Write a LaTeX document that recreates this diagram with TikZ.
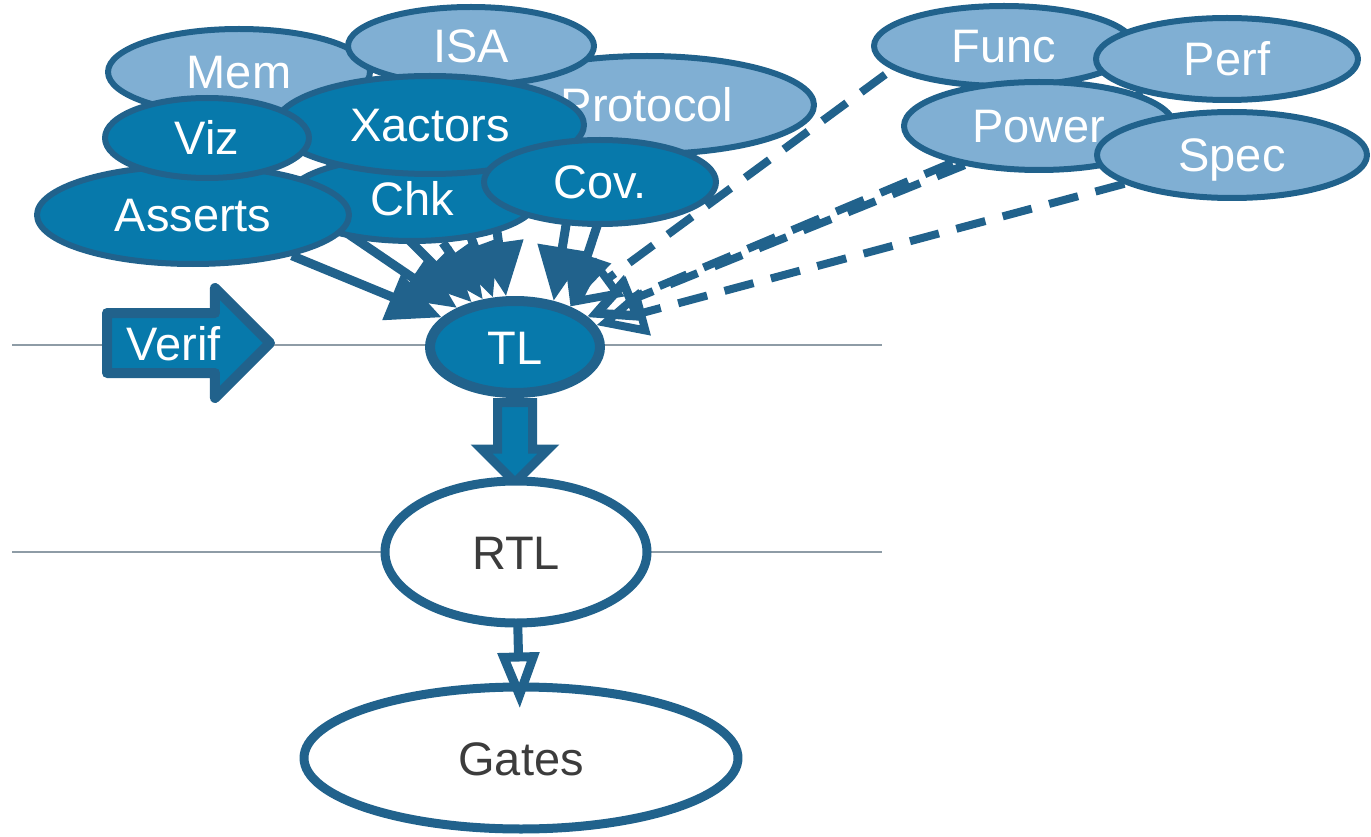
\documentclass[tikz,border=0pt]{standalone}
\usepackage{fontspec}
\setmainfont{Liberation Sans}
\usetikzlibrary{arrows.meta,shapes.geometric,shapes.arrows,backgrounds}
\definecolor{paleblue}{HTML}{80AFD3}
\definecolor{deepblue}{HTML}{0779AB}
\definecolor{rimblue}{HTML}{21628C}
\definecolor{railgray}{HTML}{8E9CA6}
\definecolor{inkgray}{HTML}{3C3C3C}
\begin{document}
\begin{tikzpicture}[line cap=round,line join=round,x=1pt,y=-1pt,
  every node/.style={font=\fontsize{47}{56}\selectfont,text height=34pt,text depth=0pt,inner sep=0pt},
  blob/.style={ellipse,draw=rimblue,line width=6pt,text=white},
  pale/.style={blob,fill=paleblue},
  deep/.style={blob,fill=deepblue},
  level/.style={ellipse,draw=rimblue,line width=9pt,fill=white,text=inkgray},
  feed/.style={draw=rimblue,line width=9pt,-{Triangle[length=54pt,width=48pt]}},
  hint/.style={draw=rimblue,line width=8pt,line cap=butt,dash pattern=on 30pt off 18pt,-{Triangle[open,length=50pt,width=46pt]}},
  block/.style={single arrow,draw=rimblue,fill=deepblue,line width=9pt,single arrow tip angle=90}]
\useasboundingbox (0,0) rectangle (1371,837);
% views, back to front
\node[pale,minimum width=262pt,minimum height=86pt] (mem) at (239,72) {Mem};
\node[pale,minimum width=334pt,minimum height=98pt] (protocol) at (647,105) {Protocol};
\node[pale,minimum width=246pt,minimum height=78pt] (isa) at (471,46) {ISA};
\node[deep,minimum width=250pt,minimum height=84pt] (chk) at (412,199) {Chk};
\node[deep,minimum width=312pt,minimum height=98pt] (asserts) at (193,215) {Asserts};
\node[deep,minimum width=308pt,minimum height=98pt] (xactors) at (430,125) {Xactors};
\node[deep,minimum width=204pt,minimum height=80pt] (viz) at (207,138) {Viz};
\node[deep,minimum width=232pt,minimum height=84pt] (cov) at (600,182) {Cov.};
% concerns on the right
\node[pale,minimum width=260pt,minimum height=80pt] (func) at (1004,46) {Func};
\node[pale,minimum width=270pt,minimum height=88pt] (power) at (1039,126) {Power};
\node[pale,minimum width=262pt,minimum height=82pt] (perf) at (1227,59) {Perf};
\node[pale,minimum width=270pt,minimum height=86pt] (spec) at (1232,155) {Spec};
% levels
\node[block,line width=10pt,minimum height=163pt,minimum width=100pt,single arrow head extend=25pt,inner xsep=10pt,inner ysep=8pt,text=white,anchor=tail] (verif) at (102,343) {Verif};
\node[deep,line width=10pt,minimum width=170pt,minimum height=92pt] (tl) at (515,347) {TL};
\node[level,minimum width=262pt,minimum height=142pt] (rtl) at (516,552) {RTL};
\node[level,minimum width=434pt,minimum height=142pt] (gates) at (521,758) {Gates};
\begin{scope}[on background layer]
\draw[railgray,line width=2.5pt] (12,345) -- (882,345);
\draw[railgray,line width=2.5pt] (12,552) -- (882,552);
\draw[feed] (asserts) -- (tl.158);
\draw[feed] (viz) -- (tl.146);
\draw[feed] (mem) -- (tl.134);
\draw[feed] (chk) -- (tl.124);
\draw[feed] (xactors) -- (tl.114);
\draw[feed] (isa) -- (tl.100);
\draw[feed] ([xshift=-27pt]cov.center) -- (tl.50);
\draw[feed] ([xshift=-10pt]protocol.center) -- (tl.36);
\draw[hint] ([xshift=-80pt]func.center) -- (tl);
\draw[hint] (perf) -- (tl);
\draw[hint] (power) -- (tl);
\draw[hint] (spec) -- (tl);
\node[block,rotate=-90,text height=26pt,minimum height=80pt,minimum width=60pt,single arrow head extend=16pt,anchor=tail] (drop) at (tl.south) {};
\end{scope}
\draw[rimblue,line width=9pt,shorten >=-26pt,-{Triangle[open,length=56pt,width=40pt]}] (rtl) -- (gates);
\end{tikzpicture}
\end{document}
